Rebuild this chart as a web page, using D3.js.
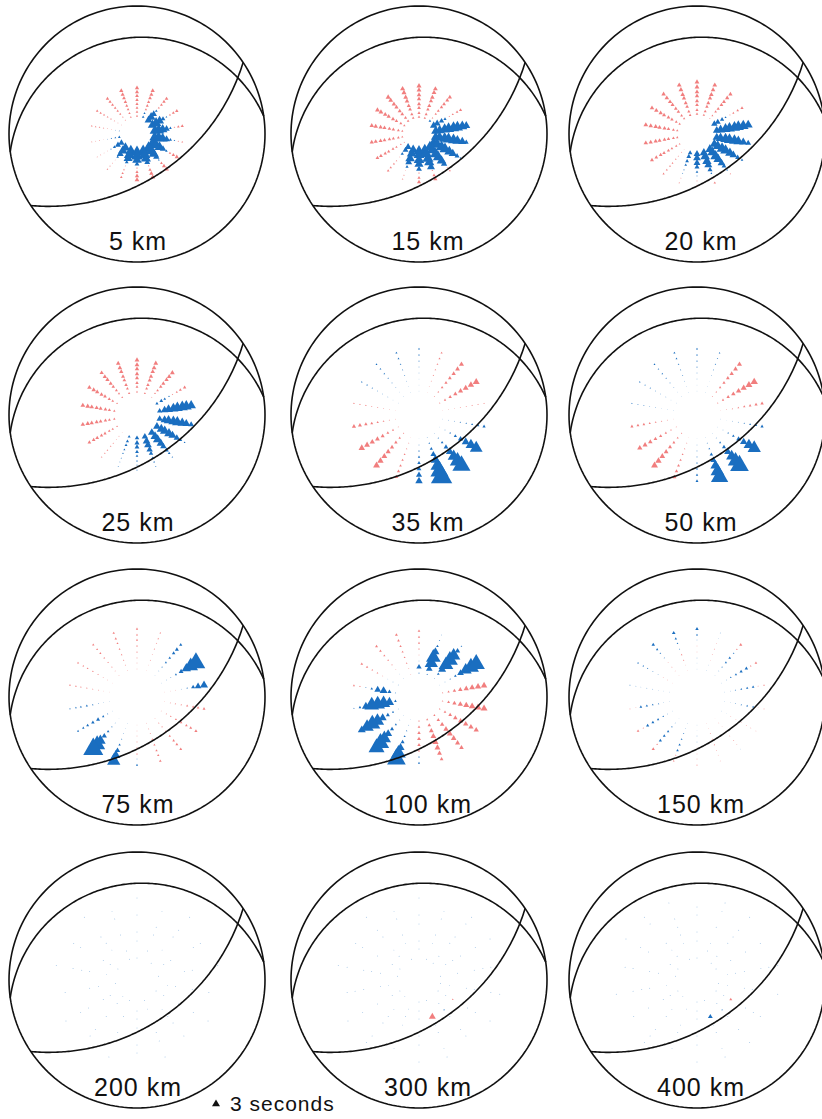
<!DOCTYPE html>
<html>
<head>
<meta charset="utf-8">
<script src="https://cdn.jsdelivr.net/npm/d3@7"></script>
<style>
  body { margin: 0; background: #fff; }
  svg { display: block; }
  text { font-family: "Liberation Sans", Arial, Helvetica, sans-serif; fill: #111; }
</style>
</head>
<body>
<svg id="chart" width="822" height="1119"></svg>
<script>
// Source depths, one focal sphere each (row by row)
const depthLabels = ["5 km", "15 km", "20 km", "25 km", "35 km", "50 km",
                     "75 km", "100 km", "150 km", "200 km", "300 km", "400 km"];

// Station azimuths (degrees clockwise from north)
const azimuths = [0, 20, 40, 60, 80, 100, 120, 140, 160, 180, 200, 220, 240, 260, 280, 300, 320, 340];

// Take-off angles (degrees from vertical) of the eight station rings, per source depth
const takeoff5   = [16.0, 19.5, 23.0, 26.4, 29.7, 33.1, 36.3, 39.5];
const takeoff15  = [15.1, 18.6, 23.0, 26.4, 30.6, 33.9, 37.9, 41.1];
const takeoff20  = [17.8, 21.2, 25.5, 28.9, 33.1, 36.3, 40.3, 44.2];
const takeoff25  = [20.4, 24.7, 28.1, 32.2, 35.5, 39.5, 42.7, 46.5];
const takeoff35  = [21.2, 26.4, 31.4, 36.3, 41.1, 45.7, 50.2, 54.6];
const takeoff50  = [21.2, 26.4, 31.4, 36.3, 41.1, 45.7, 50.2, 54.6];
const takeoff75  = [24.7, 29.7, 33.9, 38.7, 43.4, 48.0, 51.7, 56.0];
const takeoff100 = [21.2, 26.4, 31.4, 36.3, 41.1, 45.7, 50.2, 54.6];
const takeoff150 = [24.7, 29.7, 33.9, 38.7, 43.4, 48.0, 51.7, 56.0];
const takeoff200 = [19.5, 27.2, 33.9, 41.1, 47.3, 53.8, 59.4, 65.3];
const takeoff300 = [19.5, 27.2, 33.9, 41.1, 47.3, 53.8, 59.4, 65.3];
const takeoff400 = [19.5, 27.2, 33.9, 41.1, 47.3, 53.8, 59.4, 65.3];

// Time residuals in seconds (rows: azimuths, columns: rings inner -> outer).
// Positive = late (blue), negative = early (red), 0 = no station.
const delay5 = [
  [-0.8,-1.0,-1.1,-1.2,-1.3,-1.4,-1.5,-1.6],
  [ 1.0, 0.8,-0.9,-1.1,-1.2,-1.4,-1.5,-1.6],
  [ 3.0, 3.3, 2.4, 1.0,-0.8,-1.1,-1.3,-1.4],
  [ 3.6, 3.9, 3.4, 1.8, 0.7,-0.8,-1.1,-1.3],
  [ 3.8, 4.2, 3.6, 2.4, 1.0,-0.6,-1.0,-1.2],
  [ 4.0, 4.3, 3.8, 2.6, 1.2, 0.6,-0.5,-0.7],
  [ 4.1, 4.3, 3.8, 2.4, 1.0,-0.9,-1.3,-1.6],
  [ 4.2, 4.4, 3.8, 2.4, 0.7,-1.0,-1.5,-1.8],
  [ 4.2, 4.4, 3.8, 2.2,-0.6,-1.2,-1.6,-1.8],
  [ 4.2, 4.4, 3.6, 1.8,-0.6,-1.2,-1.6,-1.8],
  [ 4.0, 4.2, 3.4, 1.4,-0.4,-0.7,-0.9,-1.0],
  [ 3.6, 3.6, 2.6, 1.0,-0.3,-0.4,-0.5,-0.6],
  [ 2.4, 2.2, 1.2, 0.5,-0.3,-0.3,-0.4,-0.4],
  [ 1.0, 0.7, 0.5, 0.3,-0.3,-0.4,-0.4,-0.5],
  [ 0.4, 0.3,-0.3,-0.4,-0.5,-0.6,-0.6,-0.7],
  [-0.3,-0.4,-0.5,-0.6,-0.7,-0.8,-0.9,-1.0],
  [-0.5,-0.6,-0.8,-0.9,-1.0,-1.1,-1.2,-1.3],
  [-0.7,-0.9,-1.0,-1.1,-1.3,-1.4,-1.5,-1.6]
];
const delay15 = [
  [-1.0,-1.2,-1.4,-1.5,-1.6,-1.7,-1.8,-1.9],
  [-0.9,-1.1,-1.3,-1.5,-1.6,-1.7,-1.8,-1.8],
  [ 1.0,-0.6,-0.9,-1.1,-1.3,-1.4,-1.5,-1.6],
  [ 2.8, 2.6, 2.0, 1.2,-0.5,-0.8,-1.0,-1.2],
  [ 3.4, 3.6, 4.0, 4.2, 4.3, 4.2, 3.8, 3.0],
  [ 3.6, 4.0, 4.2, 4.3, 4.2, 3.8, 3.1, 1.8],
  [ 3.8, 4.2, 4.3, 4.2, 3.8, 3.1, 1.9, 0.7],
  [ 4.0, 4.3, 4.3, 4.1, 3.6, 2.4,-0.5,-0.8],
  [ 4.0, 4.3, 4.2, 3.8, 3.0,-0.6,-1.2,-1.5],
  [ 3.8, 4.1, 4.0, 3.4, 2.2,-0.6,-1.2,-1.5],
  [ 3.6, 3.8, 3.6, 2.6, 1.2,-0.3,-0.5,-0.6],
  [ 2.6, 2.2, 1.2,-0.4,-0.6,-0.8,-0.9,-1.0],
  [-0.5,-0.7,-0.9,-1.1,-1.2,-1.3,-1.4,-1.4],
  [-0.8,-1.0,-1.2,-1.3,-1.4,-1.5,-1.6,-1.6],
  [-0.8,-1.1,-1.3,-1.4,-1.5,-1.6,-1.7,-1.7],
  [-0.9,-1.1,-1.3,-1.5,-1.6,-1.7,-1.8,-1.8],
  [-1.0,-1.2,-1.4,-1.5,-1.6,-1.7,-1.8,-1.9],
  [-1.0,-1.2,-1.4,-1.5,-1.7,-1.8,-1.9,-1.9]
];
const delay20 = [
  [-1.0,-1.2,-1.4,-1.5,-1.6,-1.7,-1.8,-1.8],
  [-0.9,-1.1,-1.3,-1.5,-1.6,-1.7,-1.7,-1.8],
  [-0.4,-0.7,-1.0,-1.2,-1.4,-1.5,-1.6,-1.6],
  [ 2.4, 2.2, 1.6, 0.8,-0.5,-0.8,-1.0,-1.2],
  [ 2.9, 3.4, 3.8, 4.1, 4.2, 4.2, 4.0, 3.4],
  [ 3.1, 3.6, 4.0, 4.2, 4.1, 3.7, 3.1, 2.2],
  [ 3.4, 3.8, 4.1, 4.0, 3.6, 2.9, 1.9, 1.0],
  [ 3.4, 3.8, 4.0, 3.6, 2.9, 1.8, 0.7,-0.5],
  [ 3.1, 3.6, 3.5, 3.0, 1.9, 0.7,-0.6,-0.9],
  [ 2.6, 2.9, 2.6, 1.9, 1.0, 0.5,-0.5,-0.8],
  [ 1.7, 1.8, 1.4, 1.0, 0.5, 0.4,-0.4,-0.5],
  [-0.3,-0.4,-0.5,-0.6,-0.7,-0.7,-0.8,-0.8],
  [-0.7,-0.9,-1.0,-1.2,-1.3,-1.4,-1.4,-1.5],
  [-0.9,-1.1,-1.3,-1.4,-1.5,-1.6,-1.6,-1.7],
  [-0.9,-1.1,-1.3,-1.5,-1.6,-1.7,-1.7,-1.8],
  [-0.9,-1.1,-1.3,-1.4,-1.5,-1.6,-1.7,-1.7],
  [-0.9,-1.1,-1.3,-1.4,-1.5,-1.6,-1.7,-1.7],
  [-1.0,-1.2,-1.4,-1.5,-1.6,-1.7,-1.8,-1.8]
];
const delay25 = [
  [-0.8,-1.1,-1.3,-1.5,-1.6,-1.7,-1.8,-1.8],
  [-0.8,-1.1,-1.3,-1.5,-1.6,-1.7,-1.8,-1.8],
  [-0.4,-0.7,-1.0,-1.3,-1.5,-1.6,-1.7,-1.8],
  [ 1.2, 1.4, 1.0, 0.6,-0.5,-0.8,-1.1,-1.3],
  [ 2.0, 2.8, 3.4, 3.8, 4.1, 4.2, 4.1, 3.6],
  [ 2.4, 3.0, 3.6, 3.8, 4.0, 3.6, 3.0, 2.2],
  [ 2.9, 3.4, 3.6, 3.6, 3.1, 2.4, 1.4, 0.7],
  [ 2.9, 3.4, 3.5, 3.1, 2.4, 1.7, 1.0, 0.6],
  [ 2.4, 2.9, 2.9, 2.4, 1.7, 1.1, 0.7, 0.5],
  [ 1.7, 1.9, 1.8, 1.4, 1.0, 0.7, 0.5, 0.5],
  [ 1.1, 1.2, 1.1, 0.8, 0.6, 0.5, 0.4, 0.4],
  [-0.3,-0.4,-0.4,-0.5,-0.6,-0.6,-0.6,-0.6],
  [-0.7,-0.9,-1.0,-1.2,-1.3,-1.4,-1.4,-1.4],
  [-0.9,-1.1,-1.3,-1.4,-1.5,-1.6,-1.7,-1.7],
  [-0.9,-1.2,-1.4,-1.5,-1.6,-1.7,-1.8,-1.8],
  [-0.7,-1.0,-1.2,-1.4,-1.5,-1.6,-1.7,-1.7],
  [-0.7,-0.9,-1.1,-1.3,-1.5,-1.6,-1.6,-1.6],
  [-0.9,-1.1,-1.3,-1.4,-1.5,-1.6,-1.7,-1.7]
];
const delay35 = [
  [ 0.2, 0.2, 0.2, 0.3, 0.4, 0.5, 0.6, 0.7],
  [-0.2,-0.3,-0.4,-0.5,-0.6,-0.7,-0.8,-0.8],
  [-0.4,-0.7,-1.0,-1.2,-1.4,-1.6,-1.8,-1.9],
  [-0.5,-0.9,-1.3,-1.6,-1.9,-2.2,-2.4,-2.6],
  [-0.2,-0.3,-0.3,-0.4,-0.4,-0.5,-0.5,-0.5],
  [ 0.2, 0.3, 0.4, 0.5, 0.6, 0.8, 1.0, 1.2],
  [ 0.2, 0.4, 0.7, 1.2, 2.0, 3.0, 4.0, 4.8],
  [ 0.3, 0.5, 1.0, 1.8, 3.0, 4.5, 5.8, 6.8],
  [ 0.3, 0.6, 1.2, 2.2, 3.6, 5.2, 6.8, 8.0],
  [ 0.2, 0.4, 0.6, 0.9, 1.3, 1.8, 2.3, 2.8],
  [-0.2,-0.4,-0.5,-0.7,-0.9,-1.0,-1.2,-1.3],
  [-0.5,-0.9,-1.3,-1.6,-1.9,-2.2,-2.4,-2.6],
  [-0.4,-0.8,-1.1,-1.5,-1.8,-2.0,-2.2,-2.4],
  [-0.3,-0.5,-0.7,-0.9,-1.1,-1.3,-1.5,-1.6],
  [-0.2,-0.3,-0.4,-0.5,-0.5,-0.6,-0.6,-0.6],
  [ 0.2, 0.2, 0.3, 0.3, 0.4, 0.5, 0.6, 0.6],
  [ 0.2, 0.2, 0.3, 0.4, 0.5, 0.6, 0.7, 0.7],
  [ 0.2, 0.2, 0.3, 0.4, 0.5, 0.6, 0.7, 0.8]
];
const delay50 = [
  [ 0.2, 0.2, 0.3, 0.4, 0.5, 0.6, 0.7, 0.8],
  [ 0.2, 0.2, 0.2, 0.3, 0.4, 0.5, 0.5, 0.6],
  [-0.4,-0.6,-0.9,-1.2,-1.4,-1.6,-1.8,-1.9],
  [-0.5,-0.9,-1.3,-1.7,-2.0,-2.3,-2.6,-2.8],
  [-0.2,-0.4,-0.5,-0.7,-0.9,-1.0,-1.2,-1.3],
  [ 0.2, 0.2, 0.3, 0.4, 0.5, 0.7, 0.9, 1.2],
  [ 0.2, 0.3, 0.6, 1.0, 1.8, 2.8, 4.0, 5.0],
  [ 0.2, 0.4, 0.8, 1.5, 2.8, 4.2, 5.8, 7.0],
  [ 0.2, 0.4, 0.7, 1.3, 2.4, 3.8, 5.2, 6.5],
  [ 0.2, 0.3, 0.4, 0.5, 0.6, 0.8, 0.9, 1.1],
  [-0.2,-0.4,-0.5,-0.7,-0.9,-1.1,-1.3,-1.5],
  [-0.5,-0.8,-1.1,-1.5,-1.8,-2.1,-2.4,-2.6],
  [-0.4,-0.6,-0.9,-1.2,-1.4,-1.7,-1.9,-2.0],
  [-0.2,-0.4,-0.5,-0.7,-0.8,-1.0,-1.1,-1.2],
  [ 0.2, 0.2, 0.2, 0.3, 0.3, 0.4, 0.4, 0.5],
  [ 0.2, 0.2, 0.3, 0.3, 0.4, 0.5, 0.5, 0.6],
  [ 0.2, 0.2, 0.3, 0.4, 0.5, 0.6, 0.6, 0.7],
  [ 0.2, 0.2, 0.3, 0.4, 0.5, 0.6, 0.7, 0.8]
];
const delay75 = [
  [-0.3,-0.4,-0.5,-0.6,-0.7,-0.8,-0.8,-0.9],
  [-0.2,-0.3,-0.4,-0.4,-0.5,-0.5,-0.6,-0.6],
  [ 0.2, 0.3, 0.5, 0.8, 1.0, 1.3, 1.5, 1.2],
  [ 0.2, 0.3, 0.4, 0.8, 1.8, 3.5, 5.5, 7.0],
  [-0.2,-0.3,-0.3, 0.3, 0.6, 1.5, 2.5, 3.0],
  [-0.3,-0.4,-0.5,-0.6,-0.8,-0.9,-1.0,-1.1],
  [-0.3,-0.5,-0.6,-0.8,-0.9,-1.0,-1.1,-1.2],
  [-0.3,-0.5,-0.6,-0.8,-0.9,-1.0,-1.1,-1.1],
  [-0.3,-0.4,-0.5,-0.7,-0.8,-0.9,-0.9,-1.0],
  [-0.2,-0.3,-0.4,-0.5,-0.6,-0.6, 0.4, 0.8],
  [ 0.2, 0.2, 0.3, 0.5, 0.9, 2.0, 3.5, 5.0],
  [ 0.2, 0.3, 0.5, 1.0, 2.0, 4.0, 6.0, 7.5],
  [ 0.2, 0.5, 0.9, 1.5, 1.3, 1.1, 0.9, 0.8],
  [ 0.2, 0.3, 0.4, 0.6, 0.8, 0.8, 0.7, 0.6],
  [-0.2,-0.3,-0.4,-0.5,-0.6,-0.6,-0.7,-0.7],
  [-0.2,-0.3,-0.4,-0.5,-0.6,-0.7,-0.7,-0.8],
  [-0.3,-0.4,-0.5,-0.6,-0.7,-0.8,-0.8,-0.9],
  [-0.3,-0.4,-0.5,-0.6,-0.7,-0.8,-0.9,-0.9]
];
const delay100 = [
  [ 0.5, 2.0, 0.3,-0.4,-0.6,-0.8,-0.9,-1.0],
  [ 0.5, 2.5, 5.0, 5.5, 3.0, 1.0, 0.5, 0.3],
  [ 0.3, 1.0, 3.0, 5.5, 6.0, 5.0, 2.0, 0.6],
  [ 0.2, 0.3, 0.5, 1.0, 2.5, 4.5, 6.0, 6.5],
  [-0.5,-0.9,-1.3,-1.7,-2.0,-2.2,-2.4,-2.4],
  [-0.6,-1.1,-1.6,-2.0,-2.3,-2.5,-2.6,-2.6],
  [-0.6,-1.0,-1.4,-1.7,-1.9,-2.0,-2.0,-2.0],
  [-0.8,-1.3,-1.7,-2.0,-2.2,-2.1,-1.9,-1.7],
  [-0.8,-1.3,-1.8,-2.2,-2.4,-2.2,-1.8,-1.4],
  [-0.6,-1.0,-1.3,-1.5,-1.3,-0.8, 0.6, 0.8],
  [ 0.2, 0.3, 0.5, 0.8, 1.5, 3.0, 5.5, 7.0],
  [ 0.2, 0.4, 0.8, 1.5, 3.0, 5.0, 6.5, 6.0],
  [ 0.3, 0.8, 1.5, 3.0, 5.0, 6.0, 5.0, 3.0],
  [ 1.0, 3.5, 5.0, 5.5, 5.5, 3.0, 1.0, 0.5],
  [ 0.4, 1.5, 3.0, 2.5, 1.0, 0.4,-0.6,-0.8],
  [ 0.3, 0.3, 0.2,-0.4,-0.6,-0.7,-0.9,-1.0],
  [ 0.2, 0.2,-0.3,-0.5,-0.7,-0.8,-1.0,-1.1],
  [-0.3,-0.4,-0.6,-0.7,-0.8,-0.9,-1.0,-1.1]
];
const delay150 = [
  [ 0.2, 0.2, 0.3,-0.3,-0.3, 0.3, 0.8, 1.3],
  [ 0.2, 0.2,-0.3,-0.4,-0.4,-0.3, 0.2, 0.3],
  [ 0.2, 0.3, 0.5, 0.8, 1.0, 0.6,-0.6,-1.2],
  [ 0.2, 0.3, 0.6, 0.9, 1.2, 1.3,-0.6,-1.0],
  [ 0.2, 0.3, 0.5, 0.7, 0.9, 1.0,-0.4,-0.6],
  [ 0.2, 0.2, 0.4, 0.5, 0.7, 0.8,-0.3,-0.4],
  [ 0.2, 0.2,-0.3,-0.3,-0.3,-0.4,-0.4,-0.3],
  [-0.2,-0.3,-0.3,-0.4,-0.4,-0.4,-0.3, 0.2],
  [-0.2,-0.3,-0.4,-0.5,-0.5,-0.4,-0.3,-0.3],
  [ 0.2, 0.2, 0.3, 0.3,-0.3,-0.3,-0.4,-0.5],
  [ 0.2, 0.3, 0.5, 0.7, 0.9, 1.0,-0.5,-0.7],
  [ 0.2, 0.3, 0.6, 0.9, 1.1, 1.2,-0.6,-1.2],
  [ 0.2, 0.3, 0.6, 0.9, 1.1, 1.2,-0.5,-1.0],
  [ 0.2, 0.3, 0.5, 0.7, 0.9, 1.0,-0.3,-0.4],
  [ 0.2, 0.2, 0.2, 0.3, 0.3, 0.3, 0.3, 0.4],
  [-0.2,-0.3,-0.3, 0.3, 0.4, 0.5, 0.6, 0.7],
  [-0.2,-0.3,-0.4,-0.3, 0.4, 0.6, 0.9, 1.3],
  [-0.2,-0.3,-0.5,-0.6, 0.4, 0.6, 0.9, 1.4]
];
const delay200 = [
  [0.3,0,0.3,0.3,0,0.3,0,0.3],
  [0,0.3,0,0.3,0.3,0,0.3,0],
  [0.3,0,0.3,0,0.3,0.3,0,0.3],
  [0,0.3,0.3,0,0,0.3,0.3,0],
  [0.3,0,0,0.3,0.3,0,0,0.3],
  [0,0.3,0.3,0,0.3,0,0.3,0],
  [0.3,0.3,0,0.3,0,0.3,0,0.3],
  [0,0,0.3,0.3,0.3,0,0.3,0],
  [0.3,0.3,0,0,0.3,0.3,0,0.3],
  [0,0.3,0.3,0.3,0,0.3,0.3,0],
  [0.3,0,0.3,0,0.3,0,0,0.3],
  [0.3,0.3,0,0.3,0,0.3,0.3,0],
  [0,0.3,0.3,0,0.3,0.3,0,0.3],
  [0.3,0,0.3,0.3,0,0,0.3,0],
  [0,0.3,0,0.3,0.3,0.3,0,0.3],
  [0.3,0.3,0.3,0,0,0.3,0.3,0],
  [0,0,0.3,0.3,0.3,0,0,0.3],
  [0.3,0.3,0,0.3,0,0.3,0.3,0]
];
const delay300 = [
  [0,0.3,0.3,0,0.3,0.3,0,0.3],
  [0.3,0,0.3,0.3,0,0.3,0.3,0],
  [0.3,0.3,0,0.3,0.3,0,0.3,0.3],
  [0,0.3,0.3,0.3,0,0.3,0,0.3],
  [0.3,0,0.3,0,0.3,0.3,0.3,0],
  [0.3,0.3,0,0.3,0.3,0,0.3,0.3],
  [0.3,0.3,-0.6,0,0.3,0.3,0,0.3],
  [0,0.3,0.6,0.3,0,0.3,0.3,0],
  [0.3,0,-2.6,0.3,0.3,0,0.3,0.3],
  [0.3,0.3,0.3,0,0.3,0.3,0,0.3],
  [0,0.3,0.3,0.3,0,0.3,0.3,0],
  [0.3,0,0.3,0.3,0.3,0,0.3,0.3],
  [0.3,0.3,0,0.3,0,0.3,0,0.3],
  [0,0.3,0.3,0,0.3,0.3,0.3,0],
  [0.3,0,0.3,0.3,0.3,0,0.3,0.3],
  [0.3,0.3,0,0.3,0,0.3,0.3,0],
  [0,0.3,0.3,0,0.3,0.3,0,0.3],
  [0.3,0,0.3,0.3,0,0.3,0.3,0]
];
const delay400 = [
  [0.3,0,0.3,0.3,0,0.3,0.3,0],
  [0,0.3,0.3,0,0.3,0,0.3,0.3],
  [0.3,0.3,0,0.3,0.3,0.3,0,0.3],
  [0.3,0,0.3,0,0.3,0,0.3,0],
  [0,0.3,0.3,0.3,0,0.3,0.3,0.3],
  [0.3,0.3,0,0.3,0.3,0,0,0.3],
  [0.3,0.3,-1.1,0,0.3,0.3,0.3,0],
  [0,0.3,0.5,0.3,0,0.3,0,0.3],
  [0.3,0,1.8,0.3,0.3,0,0.3,0.3],
  [0.3,0.3,0.3,0,0.3,0.3,0,0.3],
  [0,0.3,0,0.3,0.3,0,0.3,0],
  [0.3,0,0.3,0.3,0,0.3,0.3,0.3],
  [0.3,0.3,0.3,0,0.3,0,0.3,0],
  [0,0.3,0,0.3,0.3,0.3,0,0.3],
  [0.3,0,0.3,0.3,0,0.3,0.3,0],
  [0.3,0.3,0,0,0.3,0.3,0,0.3],
  [0,0.3,0.3,0.3,0,0,0.3,0.3],
  [0.3,0,0.3,0.3,0.3,0.3,0,0.3]
];

// Focal mechanism nodal planes: dip direction and dip (degrees)
const planeDipDir = [352, 146];
const planeDip = [16, 51];

// Reference residual shown in the legend
const legendSeconds = 3;

const takeoffs = [takeoff5, takeoff15, takeoff20, takeoff25, takeoff35, takeoff50,
                  takeoff75, takeoff100, takeoff150, takeoff200, takeoff300, takeoff400];
const delays = [delay5, delay15, delay20, delay25, delay35, delay50,
                delay75, delay100, delay150, delay200, delay300, delay400];

// ---- layout ----
const R = 128;
const colX = [137, 419, 697];
const rowY = [134, 415, 697, 980];
const labelDx = [1, 9, 4];

const svg = d3.select("#chart");

// lower-hemisphere direction (azimuth, angle from vertical) -> lon/lat around the projection centre
function direction(az, inc) {
  const a = az * Math.PI / 180, t = inc * Math.PI / 180;
  const x = Math.cos(t), y = Math.sin(t) * Math.sin(a), z = Math.sin(t) * Math.cos(a);
  return [Math.atan2(y, x) * 180 / Math.PI, Math.asin(z) * 180 / Math.PI];
}

// triangle side length in pixels for a residual in seconds
const side = d3.scaleLinear().domain([0, legendSeconds]).range([0, 8]);
const area = s => Math.sqrt(3) / 4 * s * s;
const colour = d3.scaleThreshold().domain([0]).range(["#ef6868", "#1a6ec0"]);
const tri = d3.symbol().type(d3.symbolTriangle);

const defs = svg.append("defs");
defs.append("filter").attr("id", "soft")
  .attr("x", "-20%").attr("y", "-20%").attr("width", "140%").attr("height", "140%")
  .append("feGaussianBlur").attr("stdDeviation", 0.45);

// great circles of the nodal planes (pole at `dip` from vertical, opposite the dip direction)
const planes = planeDipDir.map((dd, k) => ({
  type: "LineString",
  coordinates: d3.geoCircle().center(direction(dd + 180, planeDip[k])).radius(90).precision(1)().coordinates[0]
}));

depthLabels.forEach((label, p) => {
  const col = p % 3, row = Math.floor(p / 3);
  const cx = colX[col], cy = rowY[row];
  const proj = d3.geoStereographic().scale(R).translate([cx, cy]).clipAngle(90).precision(0.2);
  const path = d3.geoPath(proj);

  const marks = [];
  delays[p].forEach((rowVals, ai) => rowVals.forEach((v, ri) => {
    if (v !== 0) marks.push({ v, xy: proj(direction(azimuths[ai], takeoffs[p][ri])) });
  }));

  const g = svg.append("g").attr("class", "panel");

  const drawSet = (sel, list) => sel.selectAll("path")
    .data(list.sort((a, b) => Math.abs(a.v) - Math.abs(b.v)))
    .join("path")
    .attr("transform", d => `translate(${d.xy[0]},${d.xy[1]})`)
    .attr("d", d => tri.size(area(side(Math.abs(d.v))))())
    .attr("fill", d => colour(d.v));

  drawSet(g.append("g").attr("filter", "url(#soft)").attr("fill-opacity", 0.85),
          marks.filter(d => d.v < 0));
  drawSet(g.append("g"), marks.filter(d => d.v > 0));

  g.append("path").datum({ type: "Sphere" }).attr("d", path)
    .attr("fill", "none").attr("stroke", "#111").attr("stroke-width", 1.6);
  g.selectAll(".plane").data(planes).join("path").attr("class", "plane")
    .attr("d", path).attr("fill", "none").attr("stroke", "#111").attr("stroke-width", 1.6);

  g.append("text")
    .attr("x", cx + labelDx[col]).attr("y", cy + 116)
    .attr("text-anchor", "middle")
    .attr("font-size", 25).attr("letter-spacing", 1)
    .text(label);
});

// legend
const legend = svg.append("g").attr("transform", "translate(216,1104)");
legend.append("path").attr("d", tri.size(area(side(legendSeconds)))()).attr("fill", "#111");
legend.append("text").attr("x", 14).attr("y", 7).attr("font-size", 21).attr("letter-spacing", 1)
  .text(`${legendSeconds} seconds`);
</script>
</body>
</html>
